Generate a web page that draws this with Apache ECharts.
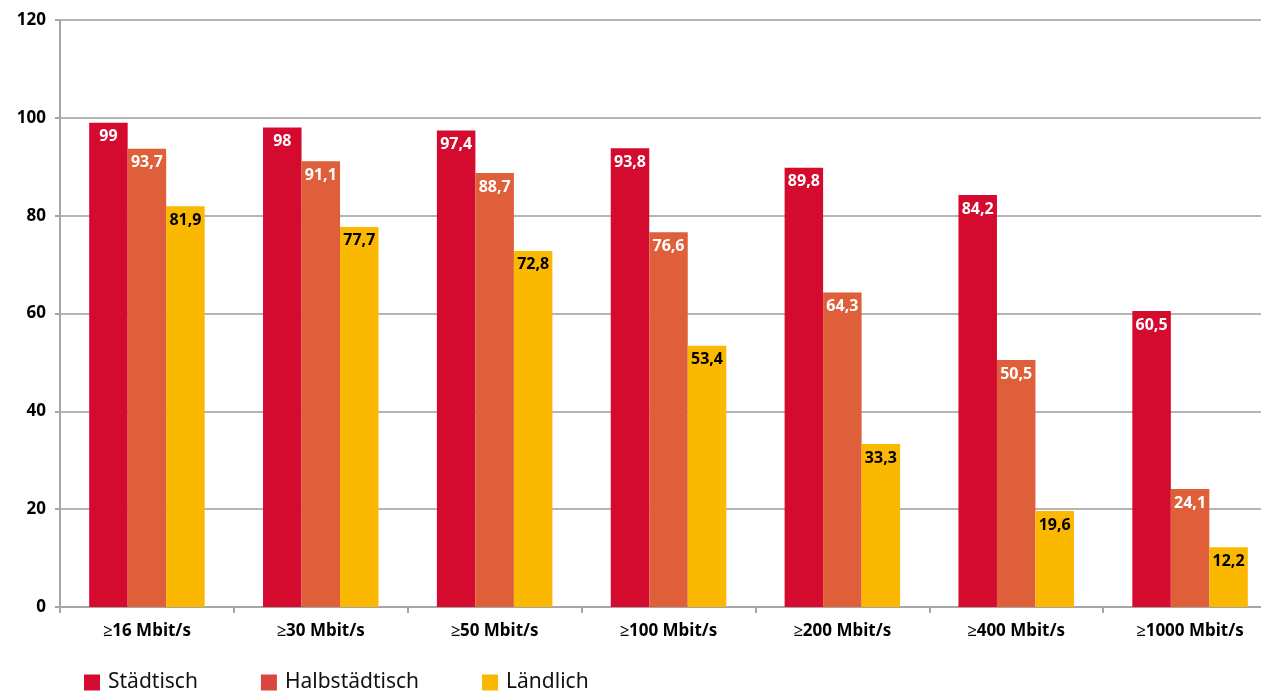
<!DOCTYPE html>
<html>
<head>
<meta charset="utf-8">
<script src="https://cdn.jsdelivr.net/npm/echarts@6/dist/echarts.min.js"></script>
<style>
html,body{margin:0;padding:0;background:#fff;}
#c{width:1261px;height:693px;}
</style>
</head>
<body>
<div id="c"></div>
<script>
const categories = ['≥16 Mbit/s','≥30 Mbit/s','≥50 Mbit/s','≥100 Mbit/s','≥200 Mbit/s','≥400 Mbit/s','≥1000 Mbit/s'];
const staedtisch = [99, 98, 97.4, 93.8, 89.8, 84.2, 60.5];
const halbstaedtisch = [93.7, 91.1, 88.7, 76.6, 64.3, 50.5, 24.1];
const laendlich = [81.9, 77.7, 72.8, 53.4, 33.3, 19.6, 12.2];
const seriesNames = ['Städtisch','Halbstädtisch','Ländlich'];
const yTicks = [0, 20, 40, 60, 80, 100, 120];

const FONT = 'Noto Sans';
const fmt = p => String(p.value).replace('.', ',');
function mk(name, data, color, labelColor) {
  return {
    name, type: 'bar', data, barWidth: 38.5, barGap: '0%',
    itemStyle: { color },
    label: {
      show: true, position: 'insideTop', distance: 6, formatter: fmt,
      color: labelColor, fontFamily: FONT, fontWeight: 'bold', fontSize: 16
    }
  };
}
const chart = echarts.init(document.getElementById('c'), null, { renderer: 'canvas' });
chart.setOption({
  animation: false,
  grid: { left: 60, top: 20, width: 1217, height: 587, containLabel: false, outerBoundsMode: 'none' },
  legend: {
    left: 79, top: 667, itemWidth: 16, itemHeight: 16, itemGap: 63, icon: 'rect',
    textStyle: { fontFamily: FONT, fontSize: 21, color: '#111', padding: [0,0,0,3] },
    data: [
      { name: seriesNames[0], itemStyle: { color: '#D40B2F' } },
      { name: seriesNames[1], itemStyle: { color: '#D9463F' } },
      { name: seriesNames[2], itemStyle: { color: '#FBB800' } }
    ]
  },
  xAxis: {
    type: 'category', data: categories,
    axisLine: { lineStyle: { color: '#a6a6a6', width: 2 } },
    axisTick: { show: true, length: 6, lineStyle: { color: '#a6a6a6', width: 2 } },
    axisLabel: { color: '#000', fontFamily: FONT, fontWeight: 'bold', fontSize: 17, margin: 16 }
  },
  yAxis: {
    type: 'value', min: 0, max: 120, interval: 20,
    axisLine: { show: true, lineStyle: { color: '#a6a6a6', width: 2 } },
    axisTick: { show: true, length: 5, lineStyle: { color: '#a6a6a6', width: 2 } },
    splitLine: { lineStyle: { color: '#b5b5b5', width: 2 } },
    axisLabel: { color: '#000', fontFamily: FONT, fontWeight: 'bold', fontSize: 17, margin: 14,
      formatter: v => yTicks.includes(v) ? String(v) : '' }
  },
  series: [
    mk(seriesNames[0], staedtisch, '#D40B2F', '#fff'),
    mk(seriesNames[1], halbstaedtisch, '#DE5F3A', '#fff'),
    mk(seriesNames[2], laendlich, '#FBB800', '#000')
  ]
});
</script>
</body>
</html>
